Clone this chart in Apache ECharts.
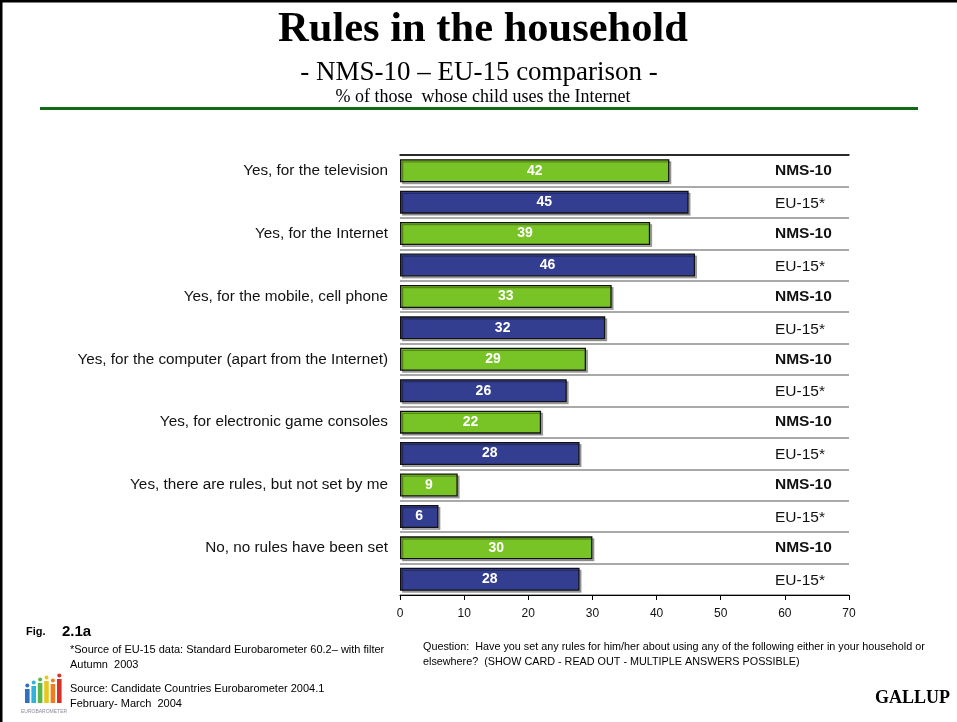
<!DOCTYPE html>
<html>
<head>
<meta charset="utf-8">
<title>Rules in the household</title>
<script src="https://cdn.jsdelivr.net/npm/echarts@6/dist/echarts.min.js"></script>
<style>
  html, body { margin: 0; padding: 0; background: #fff; }
  #chart { width: 957px; height: 722px; }
</style>
</head>
<body>
<div id="chart"></div>
<script>
// Answer options (one pair of bars per option)
var categories = [
  'Yes, for the television',
  'Yes, for the Internet',
  'Yes, for the mobile, cell phone',
  'Yes, for the computer (apart from the Internet)',
  'Yes, for electronic game consoles',
  'Yes, there are rules, but not set by me',
  'No, no rules have been set'
];
var groupNames = ['NMS-10', 'EU-15*'];
var nms10 = [42, 39, 33, 29, 22, 9, 30];
var eu15 = [45, 46, 32, 26, 28, 6, 28];
var xTicks = [0, 10, 20, 30, 40, 50, 60, 70];

// Each option takes two rows: NMS-10 then EU-15
var rows = [], rowGroup = [], nmsData = [], euData = [];
categories.forEach(function (c, i) {
  rows.push(c); rowGroup.push(0);
  nmsData.push(nms10[i]); euData.push('-');
  rows.push(c + ' '); rowGroup.push(1);
  nmsData.push('-'); euData.push(eu15[i]);
});

var GREEN = '#78c325';
var NAVY = '#343e90';
var SANS = 'Liberation Sans, Arial, sans-serif';
var SERIF = 'Liberation Serif, Times New Roman, serif';

var barStyle = function (color) {
  return {
    color: color,
    borderColor: '#111',
    borderWidth: 1.3,
    shadowColor: 'rgba(0,0,0,0.3)',
    shadowOffsetX: 2,
    shadowOffsetY: 2,
    shadowBlur: 0
  };
};
var valueLabel = {
  show: true,
  position: 'inside',
  color: '#fff',
  fontFamily: SANS,
  fontWeight: 'bold',
  fontSize: 14
};

var chart = echarts.init(document.getElementById('chart'), null, { renderer: 'canvas' });

var txt = function (x, y, text, style) {
  return {
    type: 'text', left: x, top: y, silent: true,
    style: Object.assign({ text: text, fill: '#000', fontFamily: SANS, fontSize: 11 }, style || {})
  };
};

// Small Eurobarometer logo: coloured columns with dots
var logoCols = [
  { c: '#2f6fc4', h: 14 }, { c: '#2fb3d6', h: 17 }, { c: '#55b848', h: 20 },
  { c: '#e6c81d', h: 22 }, { c: '#ef7d22', h: 19 }, { c: '#d9302a', h: 24 }
];
var logo = [];
logoCols.forEach(function (col, i) {
  var x = 25 + i * 6.4;
  logo.push({ type: 'rect', silent: true, shape: { x: x, y: 703 - col.h, width: 4.6, height: col.h }, style: { fill: col.c } });
  logo.push({ type: 'circle', silent: true, shape: { cx: x + 2.3, cy: 699.5 - col.h, r: 2 }, style: { fill: col.c } });
});
logo.push({ type: 'text', silent: true, left: 21, top: 709, style: { text: 'EUROBAROMETER', fill: '#8a8a9a', fontSize: 5, fontFamily: SANS } });

chart.setOption({
  animation: false,
  backgroundColor: '#fff',
  grid: { left: 400, right: 108, top: 155, bottom: 127, containLabel: false },
  xAxis: [{
    type: 'value',
    min: xTicks[0],
    max: xTicks[xTicks.length - 1],
    interval: 10,
    position: 'bottom',
    axisLine: { show: true, lineStyle: { color: '#000', width: 1 } },
    axisTick: { show: true, length: 5, lineStyle: { color: '#000' } },
    axisLabel: { color: '#111', fontSize: 12, margin: 13, fontFamily: SANS },
    splitLine: { show: false }
  }, {
    type: 'value',
    min: xTicks[0],
    max: xTicks[xTicks.length - 1],
    position: 'top',
    axisLine: { show: true, lineStyle: { color: '#000', width: 1.5 } },
    axisTick: { show: false },
    axisLabel: { show: false },
    splitLine: { show: false }
  }],
  yAxis: [{
    type: 'category',
    data: rows,
    inverse: true,
    axisLine: { show: false },
    axisTick: { show: false },
    splitLine: { show: true, lineStyle: { color: '#8c8c8c', width: 1.5 } },
    axisLabel: {
      margin: 12,
      fontSize: 15.3,
      color: '#111',
      fontFamily: SANS,
      formatter: function (v, i) { return rowGroup[i] === 0 ? v : ''; }
    }
  }, {
    type: 'category',
    data: rows,
    inverse: true,
    position: 'right',
    offset: -74,
    axisLine: { show: false },
    axisTick: { show: false },
    splitLine: { show: false },
    axisLabel: {
      margin: 0,
      align: 'left',
      color: '#111',
      fontFamily: SANS,
      formatter: function (v, i) { return rowGroup[i] === 0 ? '{b|' + groupNames[0] + '}' : '{n|' + groupNames[1] + '}'; },
      rich: {
        b: { fontWeight: 'bold', fontSize: 15.5, fontFamily: SANS, color: '#111' },
        n: { fontSize: 15.5, fontFamily: SANS, color: '#111', padding: [3, 0, 0, 0] }
      }
    }
  }],
  series: [{
    name: groupNames[0],
    type: 'bar',
    xAxisIndex: 0,
    yAxisIndex: 0,
    data: nmsData,
    barWidth: 23,
    barGap: '-100%',
    itemStyle: barStyle(GREEN),
    label: valueLabel
  }, {
    name: groupNames[1],
    type: 'bar',
    xAxisIndex: 0,
    yAxisIndex: 0,
    data: euData,
    barWidth: 23,
    barGap: '-100%',
    itemStyle: barStyle(NAVY),
    label: valueLabel
  }],
  graphic: [
    // page frame (top and left edges)
    { type: 'rect', silent: true, shape: { x: 0, y: 0, width: 957, height: 2.5 }, style: { fill: '#000' } },
    { type: 'rect', silent: true, shape: { x: 0, y: 0, width: 2.5, height: 722 }, style: { fill: '#000' } },
    // titles
    { type: 'text', silent: true, x: 483, y: 9,
      style: { text: 'Rules in the household', fill: '#000', fontFamily: SERIF, fontWeight: 'bold', fontSize: 42.5, textAlign: 'center' } },
    { type: 'text', silent: true, x: 479, y: 59,
      style: { text: '- NMS-10 \u2013 EU-15 comparison -', fill: '#000', fontFamily: SERIF, fontSize: 27, textAlign: 'center' } },
    { type: 'text', silent: true, x: 483, y: 88,
      style: { text: '% of those  whose child uses the Internet', fill: '#000', fontFamily: SERIF, fontSize: 18, textAlign: 'center' } },
    // green rule under the header
    { type: 'rect', silent: true, shape: { x: 40, y: 107, width: 878, height: 3 }, style: { fill: '#126b17' } },
    // footer
    txt(26, 626, 'Fig.', { fontWeight: 'bold', fontSize: 11 }),
    txt(62, 624, '2.1a', { fontWeight: 'bold', fontSize: 15 }),
    txt(70, 644, '*Source of EU-15 data: Standard Eurobarometer 60.2\u2013 with filter', { fontSize: 11 }),
    txt(70, 659, 'Autumn  2003', { fontSize: 11 }),
    txt(70, 683, 'Source: Candidate Countries Eurobarometer 2004.1', { fontSize: 11 }),
    txt(70, 698, 'February- March  2004', { fontSize: 11 }),
    txt(423, 642, 'Question:  Have you set any rules for him/her about using any of the following either in your household or', { fontSize: 10.8 }),
    txt(423, 657, 'elsewhere?  (SHOW CARD - READ OUT - MULTIPLE ANSWERS POSSIBLE)', { fontSize: 10.8 }),
    { type: 'text', silent: true, left: 875, top: 689,
      style: { text: 'GALLUP', fill: '#000', fontFamily: SERIF, fontWeight: 'bold', fontSize: 18 } }
  ].concat(logo)
});
</script>
</body>
</html>
